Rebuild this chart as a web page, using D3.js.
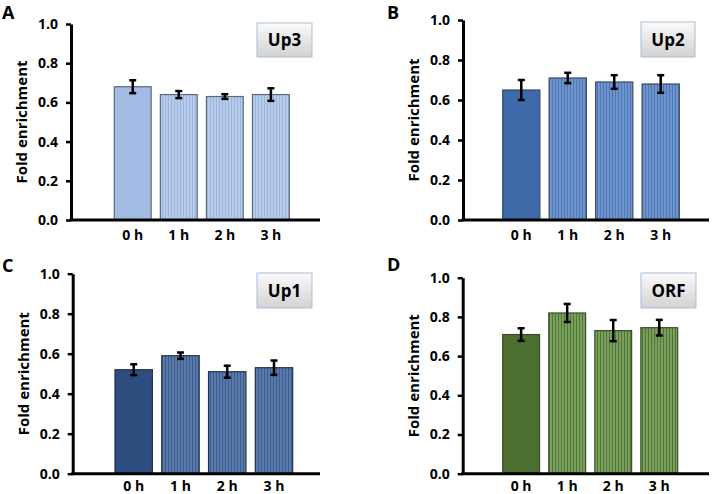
<!DOCTYPE html>
<html>
<head>
<meta charset="utf-8">
<script src="https://cdn.jsdelivr.net/npm/d3@7"></script>
<style>
  body { margin: 0; background: #fff; }
  svg { display: block; }
</style>
</head>
<body>
<div id="chart"></div>
<script>
// data
const categories = ["0 h", "1 h", "2 h", "3 h"];
const yTicks = [0, 0.2, 0.4, 0.6, 0.8, 1.0];

const up3Values = [0.68, 0.64, 0.63, 0.64];
const up3Errors = [0.033, 0.018, 0.012, 0.032];
const up2Values = [0.65, 0.71, 0.69, 0.68];
const up2Errors = [0.05, 0.026, 0.034, 0.044];
const up1Values = [0.52, 0.59, 0.51, 0.53];
const up1Errors = [0.027, 0.016, 0.03, 0.036];
const orfValues = [0.71, 0.82, 0.73, 0.745];
const orfErrors = [0.032, 0.046, 0.054, 0.04];

const width = 712, height = 494;
const font = "'Open Sans', 'Noto Sans', sans-serif";

// panel layout
const panels = [
    { letter: "A", name: "Up3", values: up3Values, errors: up3Errors,
      letterX: 2, letterY: 19, axisX: 71, yZero: 220, yOne: 24, xEnd: 320, bars: [114.3, 289.3], labelPad: 10,
      box: [257, 23, 55, 34],
      solid: "#a2bce5", stripeBase: "#b6caea", stripeLine: "#9fb7df", stroke: "#5d6978" },
    { letter: "B", name: "Up2", values: up2Values, errors: up2Errors,
      letterX: 387, letterY: 19, axisX: 463, yZero: 220, yOne: 20, xEnd: 709, bars: [502.7, 679.3], labelPad: 10,
      box: [641, 22, 54, 35],
      solid: "#3f6aaa", stripeBase: "#6e94cd", stripeLine: "#4e77b4", stroke: "#3a4a60" },
    { letter: "C", name: "Up1", values: up1Values, errors: up1Errors,
      letterX: 2, letterY: 272, axisX: 72.7, yZero: 473.7, yOne: 273.7, xEnd: 320, bars: [115, 292.7], labelPad: 7,
      box: [257, 273, 55, 35],
      solid: "#2d4d7e", stripeBase: "#5a7aab", stripeLine: "#3b5b8d", stroke: "#25334a" },
    { letter: "D", name: "ORF", values: orfValues, errors: orfErrors,
      letterX: 387, letterY: 271, axisX: 462.7, yZero: 473.7, yOne: 277.7, xEnd: 709, bars: [502.7, 677.7], labelPad: 7,
      box: [641, 273, 55, 35],
      solid: "#4b6e31", stripeBase: "#7ba05e", stripeLine: "#4f7438", stroke: "#3a4d2c" }
];

const svg = d3.select("#chart")
    .append("svg")
    .attr("width", width)
    .attr("height", height)
    .attr("viewBox", `0 0 ${width} ${height}`);

const defs = svg.append("defs");

// legend box gradient
const grad = defs.append("linearGradient")
    .attr("id", "box-grad")
    .attr("x1", 0).attr("y1", 0).attr("x2", 0).attr("y2", 1);
grad.append("stop").attr("offset", "0%").attr("stop-color", "#fbfbfb");
grad.append("stop").attr("offset", "100%").attr("stop-color", "#d2d2d2");

panels.forEach((p, i) => {
    // stripe pattern for the 1-3 h bars
    const pat = defs.append("pattern")
        .attr("id", "stripe" + i)
        .attr("patternUnits", "userSpaceOnUse")
        .attr("width", 3)
        .attr("height", 10);
    pat.append("rect").attr("width", 3).attr("height", 10).attr("fill", p.stripeBase);
    pat.append("rect").attr("width", 1).attr("height", 10).attr("fill", p.stripeLine);

    const g = svg.append("g");

    const y = d3.scaleLinear().domain([0, 1]).range([p.yZero, p.yOne]);
    const x = d3.scaleBand()
        .domain(categories)
        .range(p.bars)
        .paddingInner(0.2)
        .paddingOuter(0);

    const data = categories.map((c, k) => ({ cat: c, value: p.values[k], err: p.errors[k], idx: k }));

    // bars
    g.selectAll(".bar")
        .data(data)
        .enter()
        .append("rect")
        .attr("class", "bar")
        .attr("x", d => x(d.cat))
        .attr("width", x.bandwidth())
        .attr("y", d => y(d.value))
        .attr("height", d => y(0) - y(d.value))
        .attr("fill", d => d.idx === 0 ? p.solid : `url(#stripe${i})`)
        .attr("stroke", p.stroke)
        .attr("stroke-width", 1.2);

    // error bars
    const eb = g.selectAll(".err")
        .data(data)
        .enter()
        .append("g")
        .attr("class", "err")
        .attr("stroke", "#000")
        .attr("stroke-width", 2.5);
    eb.append("line")
        .attr("x1", d => x(d.cat) + x.bandwidth() / 2)
        .attr("x2", d => x(d.cat) + x.bandwidth() / 2)
        .attr("y1", d => y(d.value + d.err))
        .attr("y2", d => y(d.value - d.err));
    eb.append("line")
        .attr("x1", d => x(d.cat) + x.bandwidth() / 2 - 3.5)
        .attr("x2", d => x(d.cat) + x.bandwidth() / 2 + 3.5)
        .attr("y1", d => y(d.value + d.err))
        .attr("y2", d => y(d.value + d.err));
    eb.append("line")
        .attr("x1", d => x(d.cat) + x.bandwidth() / 2 - 3.5)
        .attr("x2", d => x(d.cat) + x.bandwidth() / 2 + 3.5)
        .attr("y1", d => y(d.value - d.err))
        .attr("y2", d => y(d.value - d.err));

    // y axis
    const yAxis = g.append("g")
        .attr("transform", `translate(${p.axisX},0)`)
        .call(d3.axisLeft(y)
            .tickValues(yTicks)
            .tickFormat(d3.format(".1f"))
            .tickSize(5)
            .tickSizeOuter(0)
            .tickPadding(8));
    yAxis.select(".domain").attr("stroke", "#000").attr("stroke-width", 3);
    yAxis.selectAll(".tick line").attr("stroke", "#000").attr("stroke-width", 2.5);
    yAxis.selectAll("text")
        .style("font-family", font)
        .style("font-size", "14px")
        .style("font-weight", "bold")
        .attr("fill", "#000");

    // x axis line
    g.append("line")
        .attr("x1", p.axisX - 1.5)
        .attr("x2", p.xEnd)
        .attr("y1", y(0))
        .attr("y2", y(0))
        .attr("stroke", "#000")
        .attr("stroke-width", 3);

    // x tick labels
    const xAxis = g.append("g")
        .attr("transform", `translate(0,${y(0)})`)
        .call(d3.axisBottom(x).tickSize(0).tickPadding(p.labelPad));
    xAxis.select(".domain").remove();
    xAxis.selectAll("text")
        .style("font-family", font)
        .style("font-size", "14px")
        .style("font-weight", "bold")
        .attr("fill", "#000");

    // y axis title
    g.append("text")
        .attr("transform", `translate(${p.axisX - 49},${(p.yZero + p.yOne) / 2}) rotate(-90)`)
        .attr("text-anchor", "middle")
        .attr("dy", "0.35em")
        .style("font-family", font)
        .style("font-size", "15px")
        .style("font-weight", "bold")
        .text("Fold enrichment");

    // panel letter
    g.append("text")
        .attr("x", p.letterX)
        .attr("y", p.letterY)
        .style("font-family", font)
        .style("font-size", "18px")
        .style("font-weight", "bold")
        .text(p.letter);

    // name box
    const [bx, by, bw, bh] = p.box;
    g.append("rect")
        .attr("x", bx).attr("y", by)
        .attr("width", bw).attr("height", bh)
        .attr("fill", "url(#box-grad)")
        .attr("stroke", "#a9bcd6")
        .attr("stroke-width", 1);
    g.append("text")
        .attr("x", bx + bw / 2)
        .attr("y", by + bh / 2)
        .attr("dy", "0.36em")
        .attr("text-anchor", "middle")
        .style("font-family", font)
        .style("font-size", "17px")
        .style("font-weight", "bold")
        .text(p.name);
});
</script>
</body>
</html>
